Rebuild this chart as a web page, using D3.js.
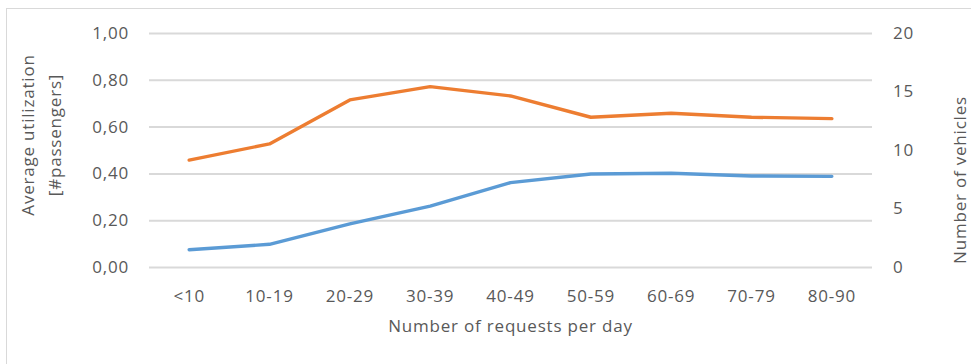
<!DOCTYPE html>
<html>
<head>
<meta charset="utf-8">
<script src="https://cdn.jsdelivr.net/npm/d3@7"></script>
<style>
  html, body { margin: 0; padding: 0; background: #fff; }
  svg { display: block; }
  text { font-family: "Open Sans", "Noto Sans", sans-serif; fill: #595959; letter-spacing: 0.8px; }
</style>
</head>
<body>
<svg id="chart" width="971" height="364"></svg>
<script>
// Request-volume bins on the x axis
const categories = ["<10", "10-19", "20-29", "30-39", "40-49", "50-59", "60-69", "70-79", "80-90"];
// Average utilization [#passengers] (left axis)
const utilization = [0.457, 0.526, 0.714, 0.771, 0.731, 0.640, 0.657, 0.640, 0.634];
// Number of vehicles (right axis)
const vehicles = [1.48, 1.94, 3.68, 5.21, 7.21, 7.95, 8.01, 7.78, 7.75];
// Tick values for both value axes
const leftTicks = [0, 0.2, 0.4, 0.6, 0.8, 1.0];
const rightTicks = [0, 5, 10, 15, 20];

const svg = d3.select("#chart");
const margin = { left: 149, right: 99, top: 33, bottom: 97 };
const W = 971, H = 364;
const x0 = margin.left, x1 = W - margin.right;
const y0 = H - margin.bottom, y1 = margin.top;
const FS = 17;

// Chart-area frame
svg.append("rect")
  .attr("x", 6.5).attr("y", 8.5)
  .attr("width", 1000).attr("height", 400)
  .attr("fill", "none").attr("stroke", "#d9d9d9").attr("stroke-width", 1);

const x = d3.scaleBand().domain(categories).range([x0, x1]);
const yL = d3.scaleLinear().domain([0, 1]).range([y0, y1]);
const yR = d3.scaleLinear().domain([0, 20]).range([y0, y1]);

const fmt = v => d3.format(".2f")(v).replace(".", ",");

// Gridlines + left axis labels
const leftAxis = d3.axisLeft(yL).tickValues(leftTicks).tickFormat(fmt)
  .tickSize(-(x1 - x0)).tickPadding(20);
const gL = svg.append("g").attr("transform", `translate(${x0},0)`).call(leftAxis);
gL.select(".domain").remove();
gL.selectAll(".tick line").attr("stroke", "#d9d9d9").attr("stroke-width", 2);
gL.selectAll(".tick text").attr("font-size", FS).style("fill", "#595959");

// Right axis labels
const rightAxis = d3.axisRight(yR).tickValues(rightTicks).tickSize(0).tickPadding(21);
const gR = svg.append("g").attr("transform", `translate(${x1},0)`).call(rightAxis);
gR.select(".domain").remove();
gR.selectAll(".tick text").attr("font-size", FS).style("fill", "#595959");

// Category axis labels
const bottomAxis = d3.axisBottom(x).tickSize(0).tickPadding(23);
const gB = svg.append("g").attr("transform", `translate(0,${y0})`).call(bottomAxis);
gB.select(".domain").remove();
gB.selectAll(".tick text").attr("font-size", FS).style("fill", "#595959");
[gL, gR, gB].forEach(g => g.attr("font-family", null).attr("font-size", null));

// Series lines
const cx = d => x(d) + x.bandwidth() / 2;
const lineL = d3.line().x((d, i) => cx(categories[i])).y(d => yL(d));
const lineR = d3.line().x((d, i) => cx(categories[i])).y(d => yR(d));

svg.append("path").datum(vehicles)
  .attr("d", lineR).attr("fill", "none")
  .attr("stroke", "#5b9bd5").attr("stroke-width", 3.4)
  .attr("stroke-linejoin", "round").attr("stroke-linecap", "round");

svg.append("path").datum(utilization)
  .attr("d", lineL).attr("fill", "none")
  .attr("stroke", "#ed7d31").attr("stroke-width", 3.4)
  .attr("stroke-linejoin", "round").attr("stroke-linecap", "round");

// Axis titles
svg.append("text")
  .attr("x", (x0 + x1) / 2).attr("y", 332)
  .attr("text-anchor", "middle").attr("font-size", FS)
  .text("Number of requests per day");

const lt = svg.append("text")
  .attr("transform", "translate(28,135) rotate(-90)")
  .attr("text-anchor", "middle").attr("font-size", FS);
lt.append("tspan").attr("x", 0).attr("dy", "0.35em").text("Average utilization");
lt.append("tspan").attr("x", 0).attr("dy", 27).text("[#passengers]");

svg.append("text")
  .attr("transform", "translate(960,180) rotate(-90)")
  .attr("text-anchor", "middle").attr("dy", "0.35em").attr("font-size", FS)
  .text("Number of vehicles");
</script>
</body>
</html>
